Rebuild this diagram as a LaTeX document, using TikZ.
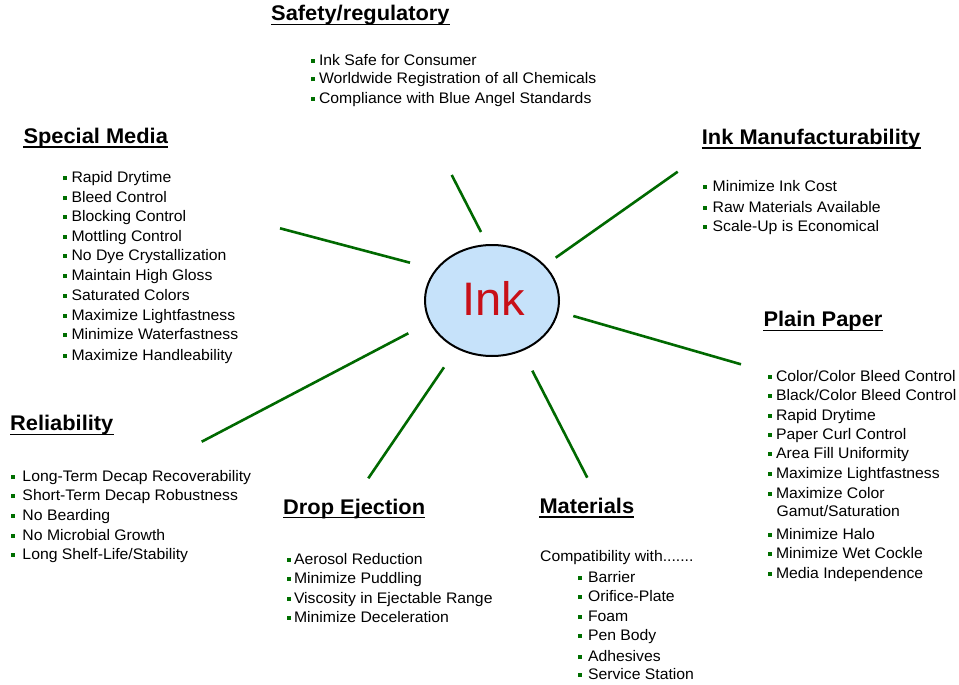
\documentclass[tikz,border=0pt]{standalone}
\usepackage{fontspec}
\usetikzlibrary{shapes.geometric}
\setmainfont{Liberation Sans}[FakeStretch=1.03]
\newfontfamily\inkfont{Liberation Sans}
\definecolor{spoke}{RGB}{0,105,0}
\definecolor{bulc}{RGB}{0,110,0}
\definecolor{inkfill}{RGB}{198,226,250}
\definecolor{inkred}{RGB}{200,16,24}
\newcommand\bul[1][5pt]{\textcolor{bulc}{\rule[2.5pt]{3.8pt}{4pt}}\hspace{#1}}
\tikzset{
  head/.style={anchor=base west, inner sep=0pt, font=\fontsize{21.2}{24}\selectfont\bfseries},
  itm/.style={anchor=base west, inner sep=0pt, font=\fontsize{15.3}{17}\selectfont},
  spokeline/.style={draw=spoke, line width=2.6pt},
  uline/.style={line width=1.5pt}
}
\newcommand\underhead[1]{\draw[uline] ([yshift=-3.6pt]#1.base west) -- ([yshift=-3.6pt]#1.base east);}
\begin{document}
\begin{tikzpicture}[x=1pt,y=-1pt]
\useasboundingbox[fill=white] (0,0) rectangle (959,685);
% center
\node[ellipse, draw, line width=2pt, fill=inkfill, minimum width=134pt, minimum height=111pt, inner sep=0pt] (ink) at (492,300.5) {};
\node[inner sep=0pt, text=inkred, font=\inkfont\fontsize{47}{50}\selectfont] (inktext) at (494,298) {Ink};
% spokes
\coordinate (s1a) at (451.7,175); \coordinate (s1b) at (481,232);
\coordinate (s2a) at (677.7,171.7); \coordinate (s2b) at (555.7,257.7);
\coordinate (s3a) at (280,228.3); \coordinate (s3b) at (410,262.7);
\coordinate (s4a) at (573.3,316); \coordinate (s4b) at (741,364.3);
\coordinate (s5a) at (201.7,441.7); \coordinate (s5b) at (408.3,333.3);
\coordinate (s6a) at (444,367.3); \coordinate (s6b) at (368.3,478.3);
\coordinate (s7a) at (532.3,370.7); \coordinate (s7b) at (587.3,477.7);
\foreach \i in {1,...,7} {\draw[spokeline] (s\i a) -- (s\i b);}
% Safety/regulatory
\node[head] (hsafe) at (271,20.7) {Safety/regulatory}; \underhead{hsafe}
\node[itm] (sa1) at (311,65.3) {\bul[4pt]Ink Safe for Consumer};
\node[itm] (sa2) at (311,84) {\bul[4pt]Worldwide Registration of all Chemicals};
\node[itm] (sa3) at (311,103.3) {\bul[4pt]Compliance with Blue Angel Standards};
% Ink Manufacturability
\node[head] (hman) at (701.7,144.5) {Ink Manufacturability}; \underhead{hman}
\node[itm] (ma1) at (702.7,191.7) {\bul[6pt]Minimize Ink Cost};
\node[itm] (ma2) at (702.7,212.2) {\bul[6pt]Raw Materials Available};
\node[itm] (ma3) at (702.7,231.5) {\bul[6pt]Scale-Up is Economical};
% Special Media
\node[head] (hspec) at (23.3,143.3) {Special Media}; \underhead{hspec}
\node[itm] (sp1) at (62.5,182.7) {\bul[5pt]Rapid Drytime};
\node[itm] (sp2) at (62.5,202.7) {\bul[5pt]Bleed Control};
\node[itm] (sp3) at (62.5,221.7) {\bul[5pt]Blocking Control};
\node[itm] (sp4) at (62.5,241) {\bul[5pt]Mottling Control};
\node[itm] (sp5) at (62.5,260) {\bul[5pt]No Dye Crystallization};
\node[itm] (sp6) at (62.5,280.7) {\bul[5pt]Maintain High Gloss};
\node[itm] (sp7) at (62.5,300) {\bul[5pt]Saturated Colors};
\node[itm] (sp8) at (62.5,320) {\bul[5pt]Maximize Lightfastness};
\node[itm] (sp9) at (62.5,339.3) {\bul[5pt]Minimize Waterfastness};
\node[itm] (sp10) at (62.5,360) {\bul[5pt]Maximize Handleability};
% Plain Paper
\node[head] (hplain) at (763.3,326.7) {Plain Paper}; \underhead{hplain}
\node[itm] (pp1) at (767.5,381.7) {\bul[4.5pt]Color/Color Bleed Control};
\node[itm] (pp2) at (767.5,400) {\bul[4.5pt]Black/Color Bleed Control};
\node[itm] (pp3) at (767.5,420) {\bul[4.5pt]Rapid Drytime};
\node[itm] (pp4) at (767.5,439.3) {\bul[4.5pt]Paper Curl Control};
\node[itm] (pp5) at (767.5,458.3) {\bul[4.5pt]Area Fill Uniformity};
\node[itm] (pp6) at (767.5,478.3) {\bul[4.5pt]Maximize Lightfastness};
\node[itm] (pp7) at (767.5,498.3) {\bul[4.5pt]Maximize Color};
\node[itm] (pp7b) at (776.3,516.7) {Gamut/Saturation};
\node[itm] (pp8) at (767.5,539.3) {\bul[4.5pt]Minimize Halo};
\node[itm] (pp9) at (767.5,558.3) {\bul[4.5pt]Minimize Wet Cockle};
\node[itm] (pp10) at (767.5,578.3) {\bul[4.5pt]Media Independence};
% Reliability
\node[head] (hrel) at (10,430.7) {Reliability}; \underhead{hrel}
\node[itm] (re1) at (10.5,481.7) {\bul[8pt]Long-Term Decap Recoverability};
\node[itm] (re2) at (10.5,500.7) {\bul[8pt]Short-Term Decap Robustness};
\node[itm] (re3) at (10.5,520) {\bul[8pt]No Bearding};
\node[itm] (re4) at (10.5,540) {\bul[8pt]No Microbial Growth};
\node[itm] (re5) at (10.5,559.3) {\bul[8pt]Long Shelf-Life/Stability};
% Drop Ejection
\node[head] (hdrop) at (283,514) {Drop Ejection}; \underhead{hdrop}
\node[itm] (dr1) at (286.5,564) {\bul[3.5pt]Aerosol Reduction};
\node[itm] (dr2) at (286.5,583) {\bul[3.5pt]Minimize Puddling};
\node[itm] (dr3) at (286.5,603) {\bul[3.5pt]Viscosity in Ejectable Range};
\node[itm] (dr4) at (286.5,622) {\bul[3.5pt]Minimize Deceleration};
% Materials
\node[head] (hmat) at (539.3,513.3) {Materials}; \underhead{hmat}
\node[itm] (mcomp) at (540,561.7) {Compatibility with.......};
\node[itm] (mt1) at (578,582.7) {\bul[6pt]Barrier};
\node[itm] (mt2) at (578,601.7) {\bul[6pt]Orifice-Plate};
\node[itm] (mt3) at (578,621.7) {\bul[6pt]Foam};
\node[itm] (mt4) at (578,640) {\bul[6pt]Pen Body};
\node[itm] (mt5) at (578,661.7) {\bul[6pt]Adhesives};
\node[itm] (mt6) at (578,679.3) {\bul[6pt]Service Station};
\end{tikzpicture}
\end{document}
